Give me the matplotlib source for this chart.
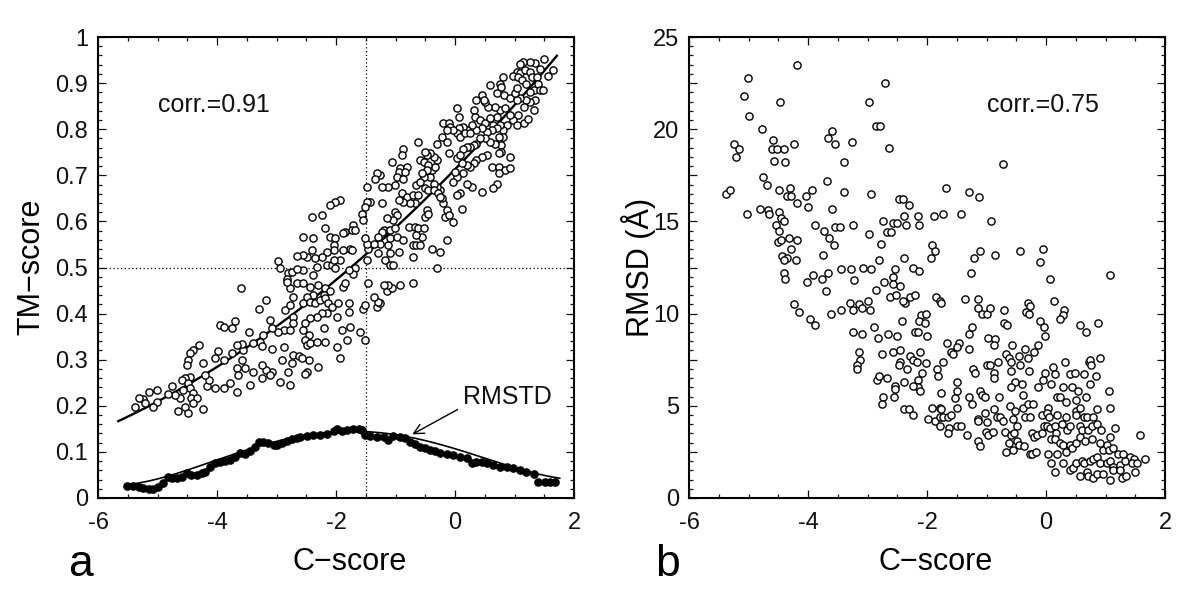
import numpy as np
import matplotlib
matplotlib.use("Agg")
import matplotlib.pyplot as plt
from matplotlib.ticker import MultipleLocator, FuncFormatter

plt.rcParams['font.family'] = ['Liberation Sans', 'DejaVu Sans']
plt.rcParams['axes.unicode_minus'] = False

# panel a: (C-score, TM-score) of the decoys
tm_points = np.array([
    [1.50, 0.952], [1.65, 0.928], [1.57, 0.916], [1.43, 0.930], [1.34, 0.943], [1.26, 0.945], [1.14, 0.945],
    [1.09, 0.941], [1.04, 0.925], [1.09, 0.921], [1.18, 0.928], [1.26, 0.925], [0.98, 0.916], [0.81, 0.914],
    [0.76, 0.899], [0.59, 0.896], [0.78, 0.892], [0.70, 0.878], [0.82, 0.874], [0.92, 0.867], [1.06, 0.914],
    [1.12, 0.907], [1.20, 0.899], [1.29, 0.914], [1.37, 0.914], [1.40, 0.899], [1.32, 0.885], [1.26, 0.881],
    [1.43, 0.885], [1.48, 0.885], [1.34, 0.863], [1.26, 0.860], [1.32, 0.841], [1.20, 0.863], [1.15, 0.849],
    [1.09, 0.867], [1.04, 0.863], [1.01, 0.878], [1.04, 0.889], [1.06, 0.831], [0.98, 0.820], [1.04, 0.809],
    [1.15, 0.813], [1.23, 0.822], [0.92, 0.831], [0.87, 0.809], [0.81, 0.798], [0.76, 0.809], [0.70, 0.827],
    [0.76, 0.841], [0.84, 0.845], [0.67, 0.849], [0.56, 0.849], [0.50, 0.860], [0.45, 0.874], [0.48, 0.863],
    [0.36, 0.863], [0.31, 0.841], [0.34, 0.827], [0.42, 0.820], [0.50, 0.813], [0.59, 0.824], [0.64, 0.809],
    [0.70, 0.802], [0.62, 0.798], [0.53, 0.795], [0.45, 0.802], [0.36, 0.798], [0.28, 0.809], [0.20, 0.798],
    [0.14, 0.805], [0.06, 0.802], [0.03, 0.791], [0.08, 0.784], [0.17, 0.791], [0.25, 0.791], [0.03, 0.845],
    [0.06, 0.827], [-0.20, 0.813], [-0.11, 0.813], [-0.08, 0.805], [-0.03, 0.798], [-0.22, 0.784],
    [-0.31, 0.769], [-0.14, 0.773], [-0.14, 0.798], [0.81, 0.784], [0.73, 0.784], [0.78, 0.766], [0.67, 0.769],
    [0.59, 0.773], [0.50, 0.780], [0.42, 0.780], [0.36, 0.769], [0.31, 0.766], [0.25, 0.762], [0.20, 0.762],
    [0.14, 0.758], [0.78, 0.751], [0.92, 0.740], [0.73, 0.748], [0.53, 0.744], [0.45, 0.740], [0.36, 0.733],
    [0.31, 0.726], [0.25, 0.719], [0.20, 0.722], [0.11, 0.726], [0.03, 0.737], [-0.11, 0.748], [0.08, 0.744],
    [0.62, 0.719], [0.73, 0.719], [0.84, 0.711], [0.92, 0.715], [0.73, 0.704], [0.70, 0.682], [0.64, 0.672],
    [0.45, 0.664], [0.28, 0.675], [0.20, 0.682], [0.14, 0.704], [0.03, 0.697], [-0.03, 0.686], [0.00, 0.708],
    [0.08, 0.661], [0.03, 0.657], [0.11, 0.628], [-0.03, 0.599], [-0.14, 0.625], [-0.20, 0.639],
    [-0.22, 0.650], [-0.25, 0.668], [-0.31, 0.675], [-0.36, 0.682], [-0.42, 0.697], [-0.39, 0.711],
    [-0.34, 0.719], [-0.31, 0.733], [-0.36, 0.740], [-0.42, 0.748], [-0.48, 0.744], [-0.50, 0.751],
    [-0.62, 0.773], [-0.59, 0.733], [-0.53, 0.729], [-0.45, 0.722], [-0.48, 0.711], [-0.53, 0.697],
    [-0.56, 0.704], [-0.65, 0.679], [-0.59, 0.686], [-0.50, 0.672], [-0.45, 0.668], [-0.36, 0.668],
    [-0.28, 0.661], [-0.25, 0.654], [-0.17, 0.610], [-0.11, 0.614], [-0.14, 0.560], [-0.25, 0.534],
    [-0.39, 0.541], [-0.31, 0.500], [-0.87, 0.758], [-0.90, 0.744], [-1.06, 0.729], [-0.92, 0.715],
    [-0.95, 0.708], [-0.98, 0.697], [-0.81, 0.719], [-0.84, 0.708], [-0.87, 0.693], [-1.01, 0.679],
    [-1.12, 0.675], [-1.23, 0.675], [-1.26, 0.701], [-1.32, 0.704], [-1.35, 0.693], [-1.23, 0.641],
    [-1.48, 0.675], [-1.43, 0.643], [-1.48, 0.643], [-1.51, 0.632], [-1.57, 0.617], [-1.54, 0.603],
    [-1.71, 0.592], [-1.74, 0.581], [-1.68, 0.581], [-1.85, 0.578], [-1.93, 0.646], [-2.02, 0.643],
    [-2.10, 0.635], [-2.24, 0.614], [-2.41, 0.610], [-2.18, 0.585], [-2.10, 0.567], [-2.38, 0.563],
    [-2.55, 0.567], [-0.90, 0.661], [-0.81, 0.654], [-0.70, 0.657], [-0.62, 0.657], [-0.67, 0.639],
    [-0.76, 0.639], [-0.87, 0.643], [-0.95, 0.646], [-1.01, 0.621], [-0.98, 0.614], [-1.04, 0.603],
    [-1.15, 0.607], [-1.20, 0.581], [-1.23, 0.578], [-1.09, 0.581], [-1.01, 0.585], [-0.78, 0.588],
    [-0.67, 0.588], [-0.62, 0.585], [-0.53, 0.585], [-0.50, 0.610], [-0.48, 0.625], [-0.45, 0.617],
    [-0.56, 0.567], [-0.65, 0.570], [-0.70, 0.549], [-0.65, 0.549], [-0.59, 0.549], [-0.70, 0.523],
    [-0.95, 0.534], [-1.09, 0.531], [-1.12, 0.549], [-1.09, 0.563], [-0.98, 0.567], [-0.87, 0.560],
    [-1.29, 0.567], [-1.26, 0.552], [-1.29, 0.531], [-1.18, 0.516], [-1.09, 0.505], [-1.04, 0.505],
    [-1.37, 0.552], [-1.46, 0.541], [-1.48, 0.552], [-1.51, 0.563], [-1.48, 0.516], [-1.77, 0.541],
    [-1.74, 0.538], [-1.88, 0.538], [-1.88, 0.574], [-2.02, 0.563], [-2.04, 0.549], [-2.04, 0.538],
    [-2.16, 0.534], [-2.24, 0.523], [-2.35, 0.520], [-2.41, 0.538], [-2.49, 0.523], [-2.55, 0.527],
    [-2.16, 0.505], [-2.07, 0.505], [-2.02, 0.498], [-2.32, 0.502], [-2.38, 0.484], [-2.55, 0.495],
    [-1.68, 0.498], [-1.71, 0.487], [-1.79, 0.494], [-1.93, 0.516], [-2.04, 0.516],
    [-2.97, 0.514], [-2.94, 0.500], [-2.80, 0.489], [-2.74, 0.491], [-2.66, 0.496], [-2.83, 0.474],
    [-2.66, 0.524],
    [-3.59, 0.455], [-3.17, 0.430], [-3.29, 0.409], [-3.11, 0.386], [-2.86, 0.408], [-2.77, 0.419],
    [-2.72, 0.437], [-2.77, 0.455], [-2.66, 0.466], [-2.83, 0.469], [-2.72, 0.393], [-2.88, 0.364],
    [-2.97, 0.361], [-2.77, 0.364], [-2.72, 0.379], [-3.95, 0.375], [-3.89, 0.372], [-3.70, 0.383],
    [-3.75, 0.368], [-3.47, 0.361], [-3.08, 0.368], [-3.22, 0.354], [-3.28, 0.339], [-3.25, 0.330],
    [-3.39, 0.337], [-3.08, 0.323], [-2.88, 0.328], [-2.72, 0.310], [-2.63, 0.307], [-2.91, 0.299],
    [-2.74, 0.292], [-2.80, 0.274], [-2.77, 0.245], [-2.95, 0.252], [-3.08, 0.274], [-3.17, 0.278],
    [-3.11, 0.267], [-3.25, 0.260], [-3.25, 0.289], [-3.39, 0.274], [-3.44, 0.245], [-3.53, 0.281],
    [-3.58, 0.299], [-3.56, 0.321], [-3.58, 0.335], [-3.67, 0.332], [-3.75, 0.314], [-3.67, 0.281],
    [-3.64, 0.267], [-3.78, 0.249], [-3.89, 0.238], [-4.03, 0.238], [-3.89, 0.299], [-3.98, 0.318],
    [-4.03, 0.303], [-3.67, 0.231], [-4.17, 0.242], [-4.14, 0.256], [-4.20, 0.267], [-4.23, 0.292],
    [-4.31, 0.332], [-4.40, 0.321], [-4.45, 0.314], [-4.48, 0.299], [-4.51, 0.289], [-4.45, 0.263],
    [-4.54, 0.260], [-4.59, 0.256], [-4.48, 0.249], [-4.45, 0.238], [-4.40, 0.227], [-4.43, 0.216],
    [-4.34, 0.216], [-4.23, 0.194], [-4.40, 0.205], [-4.54, 0.198], [-4.48, 0.184], [-4.66, 0.189],
    [-4.57, 0.234], [-4.62, 0.216], [-4.70, 0.223], [-4.76, 0.242], [-4.82, 0.225], [-5.01, 0.234],
    [-5.01, 0.209], [-5.07, 0.198], [-5.15, 0.231], [-5.24, 0.214], [-5.32, 0.218], [-5.21, 0.205],
    [-5.38, 0.197],
    [-2.55, 0.466], [-2.44, 0.458], [-2.30, 0.462], [-2.18, 0.455], [-2.10, 0.448], [-2.21, 0.440],
    [-2.38, 0.440], [-2.49, 0.437], [-2.55, 0.422], [-2.44, 0.426], [-2.35, 0.422], [-2.27, 0.430],
    [-2.18, 0.433], [-2.13, 0.422], [-2.07, 0.415], [-2.16, 0.401], [-2.24, 0.401], [-2.32, 0.393],
    [-2.44, 0.390], [-2.52, 0.379], [-2.55, 0.364], [-2.46, 0.354], [-2.52, 0.343], [-2.49, 0.332],
    [-2.44, 0.336], [-2.32, 0.339], [-2.18, 0.339], [-2.21, 0.368], [-1.99, 0.393], [-1.96, 0.422],
    [-1.79, 0.422], [-1.79, 0.404], [-1.88, 0.458], [-1.85, 0.466], [-1.54, 0.411], [-1.51, 0.419],
    [-1.32, 0.415], [-1.26, 0.422], [-1.29, 0.426], [-1.37, 0.437], [-1.15, 0.448], [-1.06, 0.455],
    [-0.92, 0.462], [-0.70, 0.466], [-1.12, 0.462], [-1.20, 0.462], [-1.46, 0.466], [-1.60, 0.361],
    [-1.51, 0.343], [-1.77, 0.372], [-1.90, 0.364], [-1.82, 0.343], [-1.99, 0.328], [-1.93, 0.303],
    [-2.30, 0.285], [-2.46, 0.299], [-2.49, 0.274], [-2.52, 0.270], [-2.58, 0.303],
])

# panel a: RMSTD of the structure clusters (filled dots)
rmstd_points = np.array([
    [-5.52, 0.027], [-5.41, 0.025], [-5.32, 0.023], [-5.24, 0.021], [-5.15, 0.020], [-5.07, 0.020],
    [-4.99, 0.023], [-4.90, 0.033], [-4.82, 0.046], [-4.76, 0.043], [-4.68, 0.043], [-4.59, 0.046],
    [-4.51, 0.054], [-4.43, 0.050], [-4.34, 0.050], [-4.26, 0.054], [-4.20, 0.057], [-4.12, 0.068],
    [-4.03, 0.075], [-3.95, 0.079], [-3.86, 0.081], [-3.78, 0.082], [-3.70, 0.088], [-3.61, 0.097],
    [-3.53, 0.095], [-3.44, 0.103], [-3.36, 0.111], [-3.30, 0.121], [-3.22, 0.121], [-3.14, 0.119],
    [-3.05, 0.116], [-3.00, 0.115], [-2.91, 0.119], [-2.83, 0.124], [-2.74, 0.127], [-2.66, 0.130],
    [-2.61, 0.133], [-2.49, 0.134], [-2.38, 0.136], [-2.27, 0.137], [-2.16, 0.139], [-2.04, 0.146],
    [-1.99, 0.150], [-1.90, 0.146], [-1.82, 0.148], [-1.71, 0.149], [-1.62, 0.150], [-1.57, 0.148],
    [-1.51, 0.137], [-1.43, 0.135], [-1.32, 0.133], [-1.20, 0.132], [-1.12, 0.126], [-1.04, 0.134],
    [-0.92, 0.133], [-0.84, 0.130], [-0.76, 0.122], [-0.67, 0.117], [-0.59, 0.111], [-0.50, 0.108],
    [-0.42, 0.104], [-0.34, 0.102], [-0.25, 0.098], [-0.14, 0.095], [-0.03, 0.093], [0.08, 0.090],
    [0.20, 0.086], [0.28, 0.077], [0.36, 0.079], [0.45, 0.079], [0.53, 0.075], [0.64, 0.072],
    [0.76, 0.068], [0.87, 0.067], [0.98, 0.064], [1.09, 0.061], [1.20, 0.057], [1.32, 0.052],
    [1.40, 0.034], [1.51, 0.034], [1.60, 0.034], [1.68, 0.034],
])

# fitted curves as drawn in panel a (sampled along the curves)
tm_fit = np.array([
    [-5.66, 0.166], [-5.38, 0.185], [-3.50, 0.328], [-2.91, 0.382], [-2.21, 0.444],
    [-1.60, 0.520], [-0.48, 0.650], [0.08, 0.726], [0.76, 0.820], [1.71, 0.957],
])
rmstd_fit = np.array([
    [-5.55, 0.028], [-4.75, 0.052], [-4.20, 0.072], [-3.33, 0.112], [-2.50, 0.136],
    [-1.60, 0.144], [-0.75, 0.133], [0.42, 0.089], [1.76, 0.043],
])

# panel b: (C-score, RMSD in Angstrom)
rmsd_points = np.array([
    [-4.18, 23.5], [-5.01, 22.8], [-5.07, 21.8], [-4.47, 21.5], [-5.00, 20.7], [-4.77, 20.0], [-5.24, 19.2],
    [-5.16, 18.9], [-5.21, 18.5], [-4.59, 19.4], [-4.61, 18.9], [-4.53, 18.9], [-4.40, 18.9], [-4.23, 19.2],
    [-4.58, 18.3], [-4.39, 18.2], [-4.76, 17.4], [-4.69, 17.0], [-5.38, 16.5], [-5.32, 16.7], [-4.48, 16.7],
    [-4.30, 16.8], [-4.36, 16.4], [-4.29, 16.4], [-4.18, 16.0], [-4.04, 16.4], [-3.93, 16.7], [-4.00, 15.8],
    [-4.81, 15.7], [-4.68, 15.6], [-4.66, 15.4], [-5.03, 15.4], [-4.48, 15.5], [-4.45, 15.2], [-4.40, 15.0],
    [-4.54, 14.8], [-4.49, 14.5], [-4.51, 13.9], [-4.45, 14.0], [-4.32, 14.1], [-4.19, 14.0], [-4.28, 13.5],
    [-4.43, 13.1], [-4.36, 13.0], [-4.40, 12.9], [-4.20, 12.9], [-3.89, 14.8], [-3.74, 14.5], [-3.64, 14.1],
    [-3.57, 13.7], [-3.75, 13.2], [-3.55, 14.7], [-3.47, 14.7], [-3.24, 14.8], [-3.59, 15.7], [-3.68, 17.2],
    [-3.67, 19.5], [-3.60, 19.9], [-3.54, 19.2], [-3.26, 19.3], [-3.40, 18.2], [-3.39, 16.6], [-2.98, 21.5],
    [-2.71, 22.5], [-2.85, 20.2], [-2.79, 20.2], [-2.64, 19.0], [-2.95, 16.5], [-2.97, 14.3], [-2.77, 13.8],
    [-2.74, 15.0], [-2.67, 14.4], [-2.61, 14.4], [-2.58, 14.9], [-2.50, 14.9], [-2.47, 16.2], [-2.80, 12.9],
    [-3.08, 12.5], [-2.94, 12.4], [-3.28, 12.4], [-3.45, 12.4], [-3.67, 12.2], [-3.77, 11.9], [-3.91, 12.1],
    [-4.40, 12.2], [-4.39, 11.9], [-2.54, 12.4], [-2.57, 12.0],
    [-0.72, 18.1], [-1.68, 16.8], [-1.29, 16.6], [-1.12, 16.3], [-2.30, 15.9], [-2.40, 16.2], [-2.39, 15.3],
    [-2.16, 15.3], [-2.13, 14.8], [-2.35, 14.8], [-1.88, 15.3], [-1.74, 15.4], [-1.43, 15.4], [-0.93, 15.0],
    [-1.91, 13.7], [-1.87, 13.4], [-1.93, 13.0], [-1.11, 13.4], [-1.21, 13.0], [-0.85, 13.2], [-0.43, 13.4],
    [-0.05, 13.5], [-0.10, 12.8], [0.07, 11.9], [1.07, 12.1], [-1.26, 12.2], [-2.38, 13.0], [-2.23, 12.5],
    [-2.13, 12.3],
    [-4.02, 11.7], [-3.22, 11.8], [-2.73, 11.7], [-2.57, 11.6], [-2.45, 11.5], [-3.70, 11.2], [-2.86, 11.3],
    [-2.62, 10.9], [-2.52, 11.0], [-4.23, 10.5], [-4.15, 10.1], [-3.96, 9.7], [-3.88, 9.4], [-3.62, 10.0],
    [-3.45, 10.2], [-3.29, 10.6], [-3.25, 10.2], [-3.15, 10.5], [-3.09, 10.3], [-3.00, 10.7], [-2.96, 10.2],
    [-3.25, 9.0], [-3.10, 8.9], [-2.90, 9.3], [-2.82, 8.7], [-2.65, 8.9], [-2.50, 8.8], [-2.42, 9.6],
    [-3.14, 7.9], [-3.12, 7.5], [-3.17, 7.2], [-3.18, 7.0], [-2.76, 7.8], [-2.58, 7.9], [-2.45, 8.0],
    [-2.46, 7.4], [-2.47, 7.2], [-2.84, 6.4], [-2.80, 6.6], [-2.67, 6.5], [-2.54, 6.1], [-2.54, 5.9],
    [-2.74, 5.5], [-2.55, 5.5], [-2.76, 5.1], [-2.38, 4.8], [-2.31, 4.8], [-2.23, 4.5], [-2.38, 6.3],
    [-2.33, 7.0], [-2.29, 7.7], [-2.23, 7.5], [-2.17, 7.4], [-2.12, 7.9], [-2.20, 9.0], [-2.16, 9.0],
    [-2.11, 9.9], [-2.13, 9.6], [-2.04, 9.5], [-2.01, 10.0], [-2.00, 8.8], [-2.01, 7.3], [-2.09, 6.8],
    [-2.15, 6.4], [-2.16, 6.0], [-2.23, 6.1], [-2.12, 5.8], [-1.98, 4.3], [-2.37, 10.6], [-2.29, 10.9],
    [-2.20, 11.0], [-2.40, 10.7],
    [-1.85, 10.9], [-1.79, 10.7], [-1.77, 10.6], [-1.37, 10.8], [-1.15, 10.8], [-1.15, 10.3], [-1.08, 10.0],
    [-1.00, 10.0], [-0.94, 10.3], [-0.70, 10.2], [-0.31, 10.6], [-0.27, 10.4], [-0.33, 10.1], [-0.28, 10.0],
    [0.13, 10.7], [0.30, 10.2], [0.29, 9.9], [0.23, 9.7], [-0.10, 9.6], [-0.03, 9.3], [-0.01, 8.8],
    [0.57, 9.4], [0.67, 9.0], [0.87, 9.5], [-1.24, 9.3], [-1.29, 8.9], [-0.71, 9.5], [-0.65, 9.4],
    [-0.97, 8.7], [-0.85, 8.6], [-0.87, 8.3], [-0.57, 8.3], [-0.14, 8.3], [-0.20, 7.9], [-0.36, 8.1],
    [-1.67, 8.4], [-1.47, 8.4], [-1.50, 8.2], [-1.60, 7.9], [-1.56, 7.8], [-1.29, 8.1], [-1.73, 7.4],
    [-1.84, 7.0], [-1.81, 6.6], [-1.00, 7.2], [-0.94, 7.2], [-1.23, 7.0], [-1.19, 6.8], [-0.81, 7.4],
    [-0.87, 6.8], [-0.87, 6.5], [-0.67, 7.8], [-0.62, 7.6], [-0.59, 7.4], [-0.45, 7.7], [-0.30, 7.6],
    [-0.59, 6.9], [-0.44, 7.2], [-0.29, 6.9], [0.32, 7.4], [0.11, 7.1], [-0.02, 6.8], [0.15, 6.7],
    [0.40, 6.7], [0.49, 6.8], [0.63, 6.7], [0.72, 7.4], [0.74, 7.5], [0.75, 7.2], [0.91, 7.6],
    [0.84, 6.6], [0.73, 6.2], [1.05, 5.8], [1.07, 4.9], [-0.52, 6.3], [-0.41, 6.2], [-0.38, 5.6],
    [-0.59, 6.0], [-0.14, 6.0], [-0.05, 6.4], [0.09, 6.2], [0.29, 6.0], [0.43, 6.0], [0.53, 5.8],
    [0.67, 5.5], [0.18, 5.5], [0.23, 5.5], [0.33, 5.2], [0.51, 5.3], [-1.50, 6.3], [-1.50, 5.8],
    [-1.53, 5.4], [-1.76, 5.7], [-1.92, 4.9], [-1.78, 4.9], [-1.76, 4.8], [-1.87, 4.2], [-1.79, 4.4],
    [-1.73, 4.4], [-1.64, 4.4], [-1.59, 4.5], [-1.79, 3.9], [-1.63, 3.8], [-1.65, 3.5], [-1.49, 3.9],
    [-1.43, 3.9], [-1.49, 4.9], [-1.30, 5.5], [-1.25, 5.1], [-1.11, 5.8], [-1.08, 5.6], [-1.03, 5.5],
    [-0.79, 5.5], [-1.15, 4.3], [-1.15, 4.2], [-1.03, 4.6], [-0.99, 4.1], [-0.87, 4.8], [-0.83, 4.4],
    [-0.77, 4.4], [-0.73, 4.2], [-0.61, 5.0], [-0.52, 4.7], [-0.55, 4.3], [-0.49, 3.9], [-0.38, 4.9],
    [-0.30, 5.1], [-0.22, 5.1], [-0.35, 4.4], [-0.27, 4.4], [-0.07, 4.5], [0.04, 4.9], [0.01, 4.6],
    [0.05, 4.4], [0.18, 4.5], [0.33, 4.4], [0.50, 4.7], [0.51, 4.5], [0.57, 4.9], [0.64, 4.4],
    [0.69, 4.4], [0.79, 4.4], [0.86, 4.8], [-1.33, 3.4], [-1.15, 3.1], [-1.11, 2.8], [-1.01, 3.6],
    [-0.98, 3.4], [-0.89, 3.6], [-0.69, 3.6], [-0.59, 3.4], [-0.54, 3.5], [-0.63, 3.0], [-0.49, 3.1],
    [-0.45, 2.9], [-0.55, 2.6], [-0.67, 2.5], [-0.37, 2.8], [-0.27, 2.4], [-0.23, 2.4], [-0.17, 2.5],
    [-0.24, 3.5], [-0.21, 3.3], [-0.15, 3.4], [-0.07, 3.5], [-0.03, 3.9], [0.01, 3.9], [0.07, 3.8],
    [0.15, 3.9], [0.17, 3.5], [0.26, 4.0], [0.35, 3.7], [0.41, 3.9], [0.57, 3.9], [0.61, 3.7],
    [0.70, 3.7], [0.77, 3.9], [0.85, 4.0], [0.93, 3.7], [1.07, 3.3], [1.15, 3.8], [0.09, 3.2],
    [0.15, 3.2], [0.23, 3.0], [0.29, 2.9], [0.40, 2.9], [0.33, 2.5], [0.43, 2.7], [0.50, 3.0],
    [0.57, 3.3], [0.65, 3.1], [0.78, 3.2], [0.91, 3.0], [0.96, 2.6], [1.02, 2.9], [1.05, 2.6],
    [1.13, 2.7], [1.21, 2.4], [1.30, 2.4], [1.41, 2.2], [1.47, 2.1], [1.66, 2.1], [1.58, 3.4],
    [0.04, 2.4], [0.18, 2.4], [0.29, 1.9], [0.09, 1.9], [0.15, 1.4], [0.40, 1.5], [0.46, 1.6],
    [0.51, 1.9], [0.60, 2.0], [0.63, 1.9], [0.74, 2.0], [0.79, 2.1], [0.85, 2.2], [0.91, 1.9],
    [1.02, 1.9], [1.07, 2.0], [1.13, 1.7], [1.24, 1.8], [1.33, 2.0], [1.44, 1.9], [1.52, 1.9],
    [0.57, 1.2], [0.68, 1.4], [0.71, 1.2], [0.79, 1.1], [0.85, 1.3], [0.96, 1.3], [1.07, 1.0],
    [1.13, 1.5], [1.24, 1.5], [1.27, 1.1], [1.35, 1.2], [1.49, 1.4],
])

corr_tm = 0.91
corr_rmsd = 0.75
cut_c = -1.5
cut_tm = 0.5


def style_axis(ax, ymax, ymajor, yminor, label_step):
    ax.set_xlim(-6, 2)
    ax.set_ylim(0, ymax)
    ax.xaxis.set_major_locator(MultipleLocator(2))
    ax.xaxis.set_minor_locator(MultipleLocator(0.5))
    ax.yaxis.set_major_locator(MultipleLocator(ymajor))
    ax.yaxis.set_minor_locator(MultipleLocator(yminor))

    def fmt(v, pos):
        k = v / label_step
        if abs(k - round(k)) > 1e-6:
            return ''
        return '%g' % round(v, 4)
    ax.yaxis.set_major_formatter(FuncFormatter(fmt))
    ax.xaxis.set_major_formatter(FuncFormatter(lambda v, p: '%g' % v))
    ax.tick_params(which='both', direction='in', top=True, right=True,
                   labelsize=17, width=0.9, colors='#111111')
    ax.tick_params(which='major', length=5.5)
    ax.tick_params(which='minor', length=3)
    ax.tick_params(axis='x', pad=10)
    ax.tick_params(axis='y', pad=7)
    for sp in ax.spines.values():
        sp.set_linewidth(1.5)


fig = plt.figure(figsize=(12, 6), dpi=100)
ax1 = fig.add_axes([0.0817, 0.17, 0.3967, 0.7683])
ax2 = fig.add_axes([0.5742, 0.17, 0.3967, 0.7683])

# ---- panel a
style_axis(ax1, 1.0, 0.1, 0.02, 0.1)
ax1.axvline(cut_c, color='k', lw=0.9, ls=(0, (1, 2)), zorder=1)
ax1.axhline(cut_tm, color='k', lw=0.9, ls=(0, (1, 2)), zorder=1)

coef = np.polyfit(tm_fit[:, 0], tm_fit[:, 1], 2)
xs = np.linspace(tm_fit[0, 0], tm_fit[-1, 0], 200)
ax1.plot(xs, np.polyval(coef, xs), color='k', lw=1.7, zorder=2)

coef2 = np.polyfit(rmstd_fit[:, 0], rmstd_fit[:, 1], 4)
xs2 = np.linspace(rmstd_fit[0, 0], rmstd_fit[-1, 0], 200)
ax1.plot(xs2, np.polyval(coef2, xs2), color='k', lw=1.2, zorder=2)

ax1.scatter(tm_points[:, 0], tm_points[:, 1], s=27, facecolors='white',
            edgecolors='k', linewidths=1.0, zorder=3)
ax1.scatter(rmstd_points[:, 0], rmstd_points[:, 1], s=27, color='k', zorder=3)

ax1.text(-4.99, 0.852, 'corr.=%.2f' % corr_tm, fontsize=18, va='center', color='#111111')
ax1.annotate('RMSTD', xy=(-0.72, 0.138), xytext=(0.13, 0.219), fontsize=18,
             va='center', ha='left', color='#111111',
             arrowprops=dict(arrowstyle='->', lw=1.0, color='k', relpos=(0, 0.1),
                             shrinkA=2, shrinkB=0, mutation_scale=18))

# ---- panel b
style_axis(ax2, 25, 2.5, 0.5, 5)
ax2.scatter(rmsd_points[:, 0], rmsd_points[:, 1], s=27, facecolors='white',
            edgecolors='k', linewidths=1.0, zorder=3)
ax2.text(-0.99, 21.3, 'corr.=%.2f' % corr_rmsd, fontsize=18, va='center', color='#111111')

# axis titles and panel letters
fig.text(31 / 1200, 1 - 267 / 600, 'TM\u2212score', rotation=90, ha='center', va='center', fontsize=22)
fig.text(638 / 1200, 1 - 267 / 600, 'RMSD (\u00c5)', rotation=90, ha='center', va='center', fontsize=22)
fig.text(350 / 1200, 0.05, 'C\u2212score', ha='center', va='baseline', fontsize=22)
fig.text(936 / 1200, 0.05, 'C\u2212score', ha='center', va='baseline', fontsize=22)
fig.text(81 / 1200, 0.04, 'a', ha='center', va='baseline', fontsize=32)
fig.text(668 / 1200, 0.04, 'b', ha='center', va='baseline', fontsize=32)

fig.savefig('out.png', dpi=100)
